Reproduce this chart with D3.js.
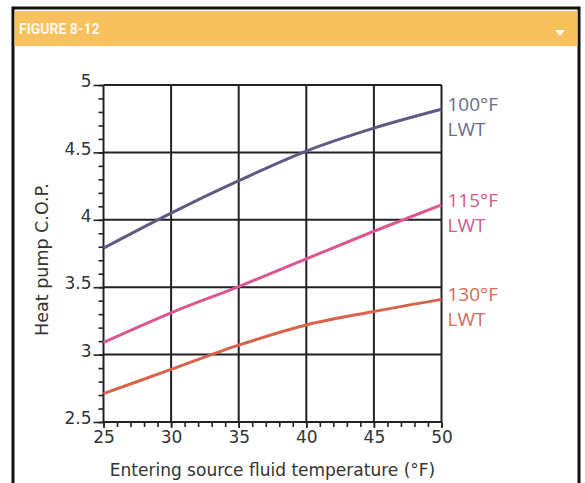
<!DOCTYPE html>
<html>
<head>
<meta charset="utf-8">
<script src="https://cdn.jsdelivr.net/npm/d3@7"></script>
<style>
  body { margin: 0; background: #fff; }
  svg { display: block; }
</style>
</head>
<body>
<div id="chart"></div>
<script>
// entering source fluid temperature (°F)
const temps = [25, 30, 35, 40, 45, 50];
// C.O.P. for each leaving water temperature
const cop100 = [3.79, 4.05, 4.29, 4.51, 4.68, 4.82];
const cop115 = [3.09, 3.31, 3.505, 3.71, 3.915, 4.11];
const cop130 = [2.71, 2.89, 3.07, 3.22, 3.32, 3.41];
const seriesNames = ["100°F", "115°F", "130°F"];
const xTicks = [25, 30, 35, 40, 45, 50];
const yTicks = [2.5, 3, 3.5, 4, 4.5, 5];

const W = 585, H = 483;
const svg = d3.select("#chart").append("svg")
    .attr("width", W)
    .attr("height", H);

// frame + header
svg.append("rect").attr("x", 13).attr("y", 8).attr("width", 566).attr("height", H)
    .attr("fill", "#fff").attr("stroke", "#111").attr("stroke-width", 3);
svg.append("rect").attr("x", 14.5).attr("y", 11).attr("width", 563).attr("height", 35)
    .attr("fill", "#f7c25e");
svg.append("text").attr("x", 19).attr("y", 34)
    .attr("font-family", "Roboto, 'Open Sans', sans-serif")
    .attr("font-weight", "bold").attr("font-size", 14)
    .attr("fill", "#fff").attr("fill-opacity", 0.9)
    .text("FIGURE 8-12");
svg.append("path").attr("d", "M555,30 L565,30 L560,36 Z").attr("fill", "#fff");

const x = d3.scaleLinear().domain([25, 50]).range([103.5, 441.5]);
const y = d3.scaleLinear().domain([2.5, 5]).range([422, 85]);

const g = svg.append("g");

// grid
g.selectAll(".vgrid").data(xTicks).enter().append("line")
    .attr("x1", d => x(d)).attr("x2", d => x(d))
    .attr("y1", y(5)).attr("y2", y(2.5))
    .attr("stroke", "#222").attr("stroke-width", 2);
g.selectAll(".hgrid").data(yTicks).enter().append("line")
    .attr("x1", x(25)).attr("x2", x(50))
    .attr("y1", d => y(d)).attr("y2", d => y(d))
    .attr("stroke", "#222").attr("stroke-width", 2);

// axes with minor ticks
const yMinor = d3.axisLeft(y).ticks(25).tickSize(5).tickFormat("");
const yMajor = d3.axisLeft(y).tickValues(yTicks).tickSize(10).tickPadding(2)
    .tickFormat(d => d);
const xMinor = d3.axisBottom(x).ticks(25).tickSize(5).tickFormat("");
const xMajor = d3.axisBottom(x).tickValues(xTicks).tickSize(6).tickPadding(3);

function styleAxis(sel) {
    sel.select(".domain").remove();
    sel.selectAll("line").attr("stroke", "#222").attr("stroke-width", 1.6);
    sel.selectAll("text")
        .attr("font-family", "'DejaVu Sans', Verdana, sans-serif")
        .attr("font-size", 17).attr("fill", "#333");
}
g.append("g").attr("transform", `translate(${x(25)},0)`).call(yMinor).call(styleAxis);
g.append("g").attr("transform", `translate(${x(25)},0)`).call(yMajor).call(styleAxis)
    .selectAll("text").attr("dy", "0.1em");
g.append("g").attr("transform", `translate(0,${y(2.5)})`).call(xMinor).call(styleAxis);
g.append("g").attr("transform", `translate(0,${y(2.5)})`).call(xMajor).call(styleAxis);

// series
const series = [
    { name: seriesNames[0], values: cop100, color: "#5d5b86", label: "#6c6a8c" },
    { name: seriesNames[1], values: cop115, color: "#dc5691", label: "#d4588c" },
    { name: seriesNames[2], values: cop130, color: "#db6249", label: "#d66a52" }
];

const line = d3.line()
    .x((d, i) => x(temps[i]))
    .y(d => y(d))
    .curve(d3.curveMonotoneX);

series.forEach(s => {
    g.append("path")
        .attr("d", line(s.values))
        .attr("fill", "none")
        .attr("stroke", s.color)
        .attr("stroke-width", 3);
    const last = y(s.values[s.values.length - 1]);
    const t = g.append("text")
        .attr("x", x(50) + 6)
        .attr("y", last)
        .attr("font-family", "'Open Sans', 'DejaVu Sans', sans-serif")
        .attr("font-size", 19)
        .attr("fill", s.label);
    t.append("tspan").attr("x", x(50) + 6).attr("dy", "0.1em").text(s.name);
    t.append("tspan").attr("x", x(50) + 6).attr("dy", "1.3em").text("LWT");
});

// axis titles
svg.append("text")
    .attr("transform", `translate(48,${(y(2.5) + y(5)) / 2 + 6}) rotate(-90)`)
    .attr("text-anchor", "middle")
    .attr("font-family", "'DejaVu Sans', Verdana, sans-serif")
    .attr("font-size", 17.5).attr("fill", "#333")
    .text("Heat pump C.O.P.");
svg.append("text")
    .attr("x", (x(25) + x(50)) / 2)
    .attr("y", 476)
    .attr("text-anchor", "middle")
    .attr("font-family", "'DejaVu Sans', Verdana, sans-serif")
    .attr("font-size", 17).attr("fill", "#333")
    .text("Entering source fluid temperature (°F)");
</script>
</body>
</html>
